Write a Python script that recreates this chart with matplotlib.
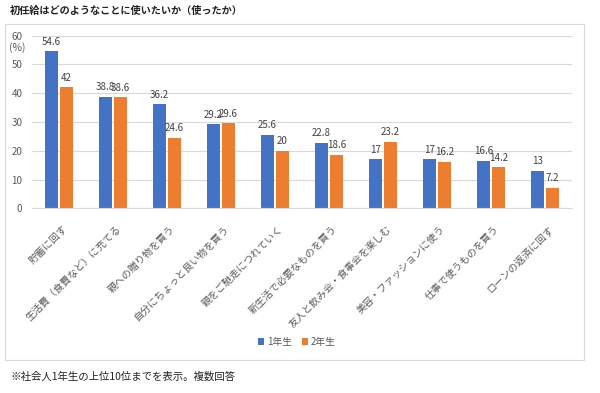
import matplotlib
matplotlib.use("Agg")
import numpy as np
from matplotlib import pyplot as plt
from matplotlib.patches import Rectangle

plt.rcParams["font.family"] = ["Noto Sans CJK JP", "DejaVu Sans"]

categories = [
    "貯蓄に回す",
    "生活費（食費など）に充てる",
    "親への贈り物を買う",
    "自分にちょっと良い物を買う",
    "親をご馳走につれていく",
    "新生活で必要なものを買う",
    "友人と飲み会・食事会を楽しむ",
    "美容・ファッションに使う",
    "仕事で使うものを買う",
    "ローンの返済に回す",
]
year1 = [54.6, 38.8, 36.2, 29.2, 25.6, 22.8, 17, 17, 16.6, 13]
year2 = [42, 38.6, 24.6, 29.6, 20, 18.6, 23.2, 16.2, 14.2, 7.2]
series_names = ["1年生", "2年生"]
yticks = [0, 10, 20, 30, 40, 50, 60]

BLUE = "#4472C4"
ORANGE = "#ED7D31"
GRID = "#D9D9D9"
TEXT = "#595959"

fig = plt.figure(figsize=(6.0, 3.93), dpi=100)
fig.patch.set_facecolor("white")

# chart frame
fig.patches.append(Rectangle((5 / 600, 1 - 360 / 393), 579 / 600, 336 / 393,
                             transform=fig.transFigure, fill=False,
                             edgecolor=GRID, linewidth=0.8))

ax = fig.add_axes([32 / 600, 1 - 208.3 / 393, 540 / 600, 172.6 / 393])
x = np.arange(len(categories))
w = 0.235
off = 0.14
b1 = ax.bar(x - off, year1, w, color=BLUE, label=series_names[0], zorder=2)
b2 = ax.bar(x + off, year2, w, color=ORANGE, label=series_names[1], zorder=2)

for bars in (b1, b2):
    for rect in bars:
        h = rect.get_height()
        ax.text(rect.get_x() + rect.get_width() / 2, h + 1.6, f"{h:g}",
                ha="center", va="bottom", fontsize=7, color="#404040")

ax.set_xlim(-0.5, len(categories) - 0.5)
ax.set_ylim(0, 60)
ax.set_yticks(yticks)
ax.set_yticklabels([str(t) for t in yticks])
ax.grid(axis="y", color=GRID, linewidth=0.8, zorder=0)
for s in ["top", "right", "left"]:
    ax.spines[s].set_visible(False)
ax.spines["bottom"].set_color(GRID)
ax.tick_params(axis="y", length=0, pad=7, labelsize=7, labelcolor=TEXT)
ax.tick_params(axis="x", length=0, pad=11)
ax.set_xticks(x + 0.06)
ax.set_xticklabels(categories, rotation=45, ha="right", va="top",
                   rotation_mode="anchor", fontsize=7.2, color=TEXT)

fig.text(17 / 600, 1 - 48 / 393, "(%)", fontsize=7.5, color=TEXT,
         ha="center", va="center")

fig.text(10 / 600, 1 - 11 / 393, "初任給はどのようなことに使いたいか（使ったか）",
         fontsize=7.3, fontweight="bold", color="#222222", ha="left", va="center")

fig.legend(handles=[b1, b2], labels=series_names, loc="center",
           bbox_to_anchor=(0.495, 1 - 342 / 393), ncol=2, frameon=False,
           fontsize=7, handlelength=0.6, handleheight=0.6,
           handletextpad=0.3, columnspacing=1.0, labelcolor=TEXT)

fig.text(10 / 600, 1 - 377 / 393, "※社会人1年生の上位10位までを表示。複数回答",
         fontsize=7.5, color="#222222", ha="left", va="center")

fig.savefig("out.png", dpi=100)
